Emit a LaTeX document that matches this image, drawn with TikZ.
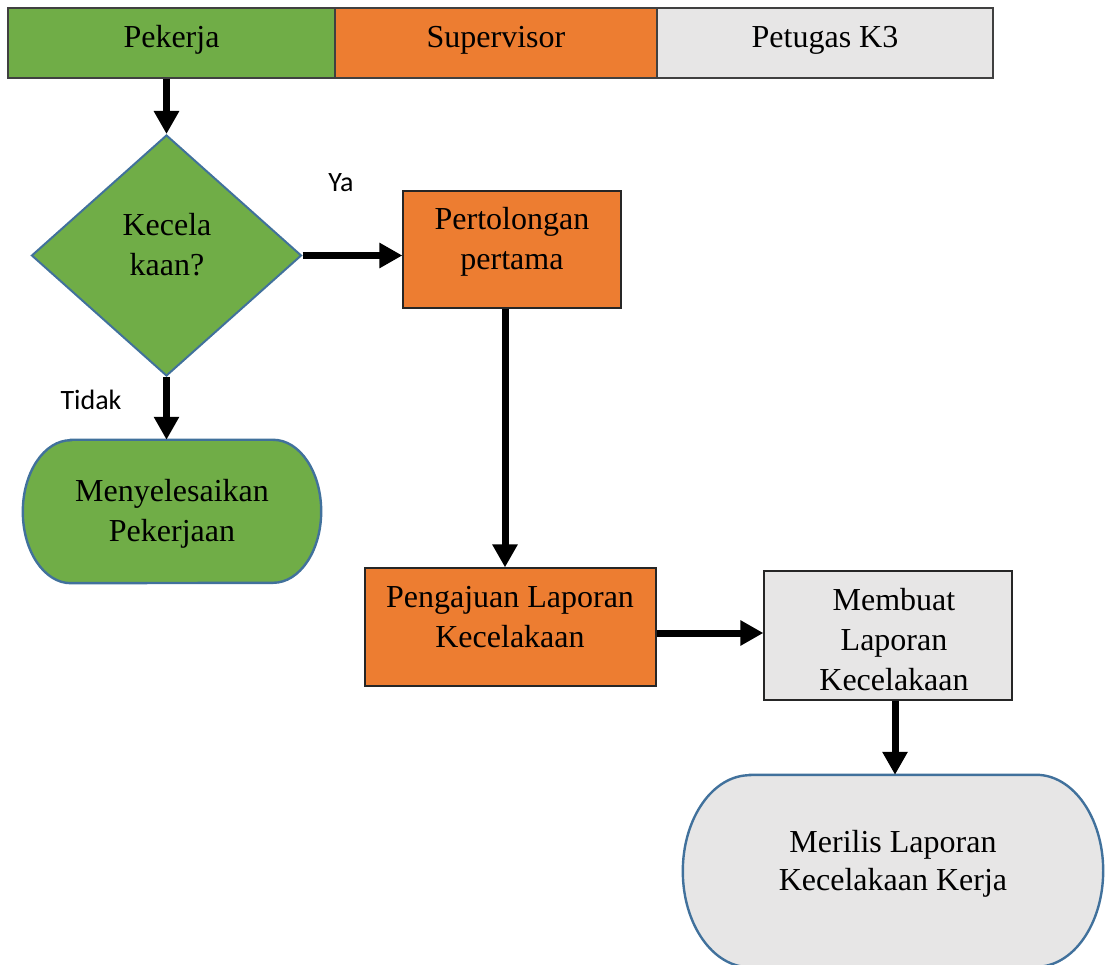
\documentclass[tikz,border=0pt]{standalone}
\usepackage{fontspec}
\setmainfont{Liberation Serif}
\newfontfamily\labelfont{Carlito}
\usetikzlibrary{arrows.meta,shapes.geometric,calc}
\definecolor{laneGreen}{HTML}{70AD47}
\definecolor{laneOrange}{HTML}{ED7D31}
\definecolor{laneGrey}{HTML}{E7E6E6}
\definecolor{edgeBlue}{HTML}{41719C}
\begin{document}
\begin{tikzpicture}[x=1pt,y=1pt,
  lane/.style={draw=black!75, line width=1.4pt, inner sep=0pt, minimum height=70pt},
  procbox/.style={draw=black!85, line width=1.2pt, inner sep=0pt},
  frame/.style={inner sep=0pt},
  termline/.style={draw=edgeBlue, line width=2.4pt},
  decision/.style={diamond, draw=edgeBlue, line width=2pt, inner sep=0pt, fill=laneGreen},
  % text nodes are placed by the baseline of their last line
  txt/.style={font=\fontsize{32}{40}\selectfont, align=center, inner sep=0pt, anchor=base},
  branchlabel/.style={font=\labelfont\fontsize{28}{34}\selectfont, inner sep=0pt, anchor=base},
  flow/.style={line width=7pt, -{Triangle[length=23pt,width=24pt]}},
]
\useasboundingbox (0,0) rectangle (1109,-965);

% swimlane header
\node[lane, fill=laneGreen, minimum width=327pt] (pekerja) at (171.5,-43) {};
\node[lane, fill=laneOrange, minimum width=322pt] (supervisor) at (496,-43) {};
\node[lane, fill=laneGrey, minimum width=336pt] (petugas) at (825,-43) {};
\node[txt] (pekerja-t) at (171.5,-48) {Pekerja};
\node[txt] (supervisor-t) at (496,-48) {Supervisor};
\node[txt] (petugas-t) at (825,-48) {Petugas K3};

% decision
\node[decision, minimum width=270pt, minimum height=241pt] (dia) at (166.5,-255.5) {};
\node[txt] (dia-t) at (167,-276) {Kecela\\kaan?};

% process boxes
\node[procbox, fill=laneOrange, minimum width=218pt, minimum height=117pt] (pertolongan) at (512,-249.5) {};
\node[txt] (pertolongan-t) at (512,-270) {Pertolongan\\pertama};

\node[procbox, fill=laneOrange, minimum width=291pt, minimum height=118pt] (pengajuan) at (510.5,-627) {};
\node[txt] (pengajuan-t) at (510,-647) {Pengajuan Laporan\\Kecelakaan};

\node[procbox, fill=laneGrey, minimum width=248pt, minimum height=129pt] (membuat) at (888,-635.5) {};
\node[txt] (membuat-t) at (894,-690) {Membuat\\Laporan\\Kecelakaan};

% terminators
\node[frame, minimum width=298pt, minimum height=143pt] (menyelesaikan) at (172,-511.5) {};
\draw[termline, fill=laneGreen]
  ($(menyelesaikan.north west)+(48,0)$) -- ($(menyelesaikan.north east)+(-48,0)$)
  arc[start angle=90, end angle=-90, x radius=48, y radius=71.5]
  -- ($(menyelesaikan.south west)+(48,0)$)
  arc[start angle=270, end angle=90, x radius=48, y radius=71.5] -- cycle;
\node[txt] (menyelesaikan-t) at (172,-541) {Menyelesaikan\\Pekerjaan};

\node[frame, minimum width=420pt, minimum height=192pt] (merilis) at (893,-871) {};
\draw[termline, fill=laneGrey]
  ($(merilis.north west)+(67,0)$) -- ($(merilis.north east)+(-67,0)$)
  arc[start angle=90, end angle=-90, x radius=67, y radius=96]
  -- ($(merilis.south west)+(67,0)$)
  arc[start angle=270, end angle=90, x radius=67, y radius=96] -- cycle;
\node[txt, font=\fontsize{32}{38}\selectfont] (merilis-t) at (893,-890) {Merilis Laporan\\Kecelakaan Kerja};

% branch labels
\node[branchlabel] (ya) at (341,-192) {Ya};
\node[branchlabel] (tidak) at (91,-410) {Tidak};

% connectors
\draw[flow] (dia.north |- pekerja.south) -- (dia.north);
\draw[flow] (dia.east) -- (dia.east -| pertolongan.west);
\draw[flow] (dia.south) -- (dia.south |- menyelesaikan.north);
\coordinate (p-out) at ($(pertolongan.south)+(-7,0)$);
\draw[flow] (p-out) -- (p-out |- pengajuan.north);
\coordinate (g-out) at ($(pengajuan.east)+(0,-6)$);
\draw[flow] (g-out) -- (g-out -| membuat.west);
\coordinate (m-out) at ($(membuat.south)+(7,0)$);
\draw[flow] (m-out) -- (m-out |- merilis.north);
\end{tikzpicture}
\end{document}
